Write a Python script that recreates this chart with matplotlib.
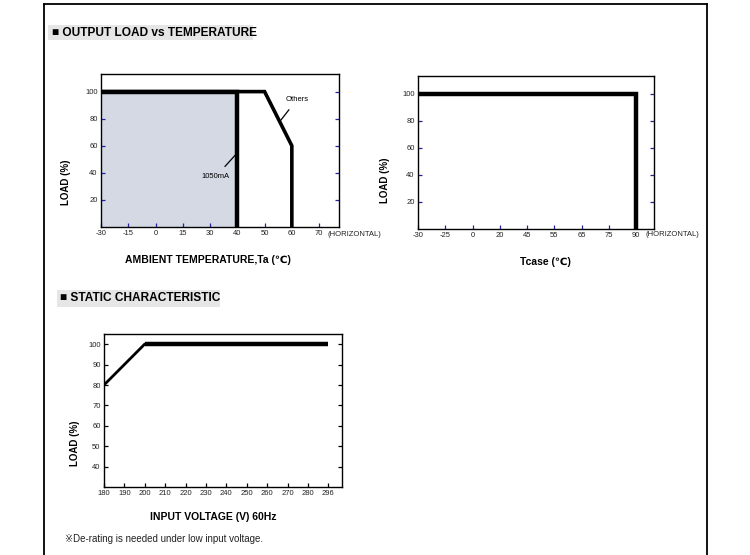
import numpy as np
import matplotlib
matplotlib.use('Agg')
from matplotlib import pyplot as plt
from matplotlib.lines import Line2D
from matplotlib.patches import Rectangle

plt.rcParams['font.family'] = ['Liberation Sans', 'DejaVu Sans', 'Noto Sans CJK JP']

# --- data ---
temp_ticks = [-30, -15, 0, 15, 30, 40, 50, 60, 70]
others_temp = [-30, 50, 60, 60]
others_load = [100, 100, 60, 0]
ma1050_temp = [-30, 40, 40]
ma1050_load = [100, 100, 0]

tcase_ticks = [-30, -25, 0, 20, 45, 55, 65, 75, 90]
tcase_temp = [-30, 90, 90]
tcase_load = [100, 100, 0]

volt_ticks = [180, 190, 200, 210, 220, 230, 240, 250, 260, 270, 280, 296]
volt_in = [180, 200, 296]
volt_load = [80, 100, 100]

load_ticks_temp = [20, 40, 60, 80, 100]
load_ticks_volt = [40, 50, 60, 70, 80, 90, 100]

W, H = 750, 555
TICK_BLUE = '#2323a0'
SHADE = '#d4d9e3'


def pos(values, ticks):
	# the datasheet axes are not linear: every tick is one equal step
	return np.interp(values, ticks, np.arange(len(ticks)))


def add_axes_px(fig, left, top, right, bottom):
	return fig.add_axes([left / W, 1 - bottom / H, (right - left) / W, (bottom - top) / H])


def style_axes(ax, ticks, yticks, tick_color):
	ax.set_xticks(np.arange(len(ticks)))
	ax.set_xticklabels([str(t) for t in ticks])
	ax.set_yticks(yticks)
	ax.tick_params(direction='in', length=3, width=0.9, color=tick_color, labelsize=5.5,
				   pad=2.5, right=True, labelcolor='#222222')
	for s in ax.spines.values():
		s.set_linewidth(1.0)


def px_text(fig, x, y, s, **kw):
	fig.text(x / W, 1 - y / H, s, **kw)


def load_label(fig, x, y):
	px_text(fig, x, y, 'LOAD (%)', fontsize=7, fontweight='bold', rotation=90, ha='center', va='center')


fig = plt.figure(figsize=(7.5, 5.55), dpi=100)
fig.patch.set_facecolor('white')

# outer frame of the datasheet page
fig.add_artist(Line2D([44 / W, 44 / W], [0, 1 - 4 / H], color='black', lw=1.3))
fig.add_artist(Line2D([707 / W, 707 / W], [0, 1 - 4 / H], color='black', lw=1.3))
fig.add_artist(Line2D([44 / W, 707 / W], [1 - 4 / H, 1 - 4 / H], color='black', lw=1.3))

# section headers
fig.add_artist(Rectangle((48 / W, 1 - 40 / H), 205 / W, 15 / H, color='#e6e6e6', lw=0))
px_text(fig, 52, 32.5, '\u25a0 OUTPUT LOAD vs TEMPERATURE', fontsize=8.6, fontweight='bold', va='center')
fig.add_artist(Rectangle((57 / W, 1 - 307 / H), 163 / W, 17 / H, color='#e6e6e6', lw=0))
px_text(fig, 60, 298.5, '\u25a0 STATIC CHARACTERISTIC', fontsize=8.6, fontweight='bold', va='center')

# --- chart 1: output load vs ambient temperature ---
ax1 = add_axes_px(fig, 101, 74, 339, 227)
ax1.fill_between(pos([-30, 40], temp_ticks), 0, 100, color=SHADE, lw=0)
ax1.plot(pos(ma1050_temp, temp_ticks), ma1050_load, color='black', lw=3.2, solid_joinstyle='miter')
ax1.plot(pos(others_temp, temp_ticks), others_load, color='black', lw=2.6, solid_joinstyle='miter')
ax1.set_xlim(0, 8.73)
ax1.set_ylim(0, 113)
style_axes(ax1, temp_ticks, load_ticks_temp, TICK_BLUE)
ax1.annotate('Others', xy=(6.6, 79), xytext=(7.2, 94.5), fontsize=5.5, ha='center', va='center',
			 arrowprops=dict(arrowstyle='-', color='black', lw=0.9, shrinkA=4, shrinkB=0))
ax1.annotate('1050mA', xy=(4.92, 53), xytext=(4.2, 37), fontsize=5.5, ha='center', va='center',
			 arrowprops=dict(arrowstyle='-', color='black', lw=0.9, shrinkA=4, shrinkB=0))
load_label(fig, 66, 182)
px_text(fig, 328, 234.5, '(HORIZONTAL)', fontsize=5.5, va='center', color='#222222')
px_text(fig, 208, 260, 'AMBIENT TEMPERATURE,Ta (\u2103)', fontsize=7.5, fontweight='bold', ha='center', va='center')

# --- chart 2: output load vs case temperature ---
ax2 = add_axes_px(fig, 418, 76, 654, 229)
ax2.plot(pos(tcase_temp, tcase_ticks), tcase_load, color='black', lw=3.2, solid_joinstyle='miter')
ax2.set_xlim(0, 8.66)
ax2.set_ylim(0, 113)
style_axes(ax2, tcase_ticks, load_ticks_temp, TICK_BLUE)
load_label(fig, 385, 180)
px_text(fig, 645, 235, '(HORIZONTAL)', fontsize=5.5, va='center', color='#222222')
px_text(fig, 545, 262, 'Tcase (\u2103)', fontsize=7.5, fontweight='bold', ha='center', va='center')

# --- chart 3: static characteristic ---
ax3 = add_axes_px(fig, 104, 334, 342, 487)
vx = pos(volt_in, volt_ticks)
ax3.plot(vx[:2], volt_load[:2], color='black', lw=2.0, solid_capstyle='round')
ax3.plot(vx[1:], volt_load[1:], color='black', lw=3.2, solid_capstyle='butt')
ax3.set_xlim(0, 11.67)
ax3.set_ylim(30.2, 104.9)
style_axes(ax3, volt_ticks, load_ticks_volt, 'black')
load_label(fig, 75, 443)
px_text(fig, 213, 517, 'INPUT VOLTAGE (V) 60Hz', fontsize=7.5, fontweight='bold', ha='center', va='center')
px_text(fig, 65, 539, '\u203bDe-rating is needed under low input voltage.', fontsize=7, va='center', color='#222222')

fig.savefig('out.png', dpi=100, facecolor='white')
